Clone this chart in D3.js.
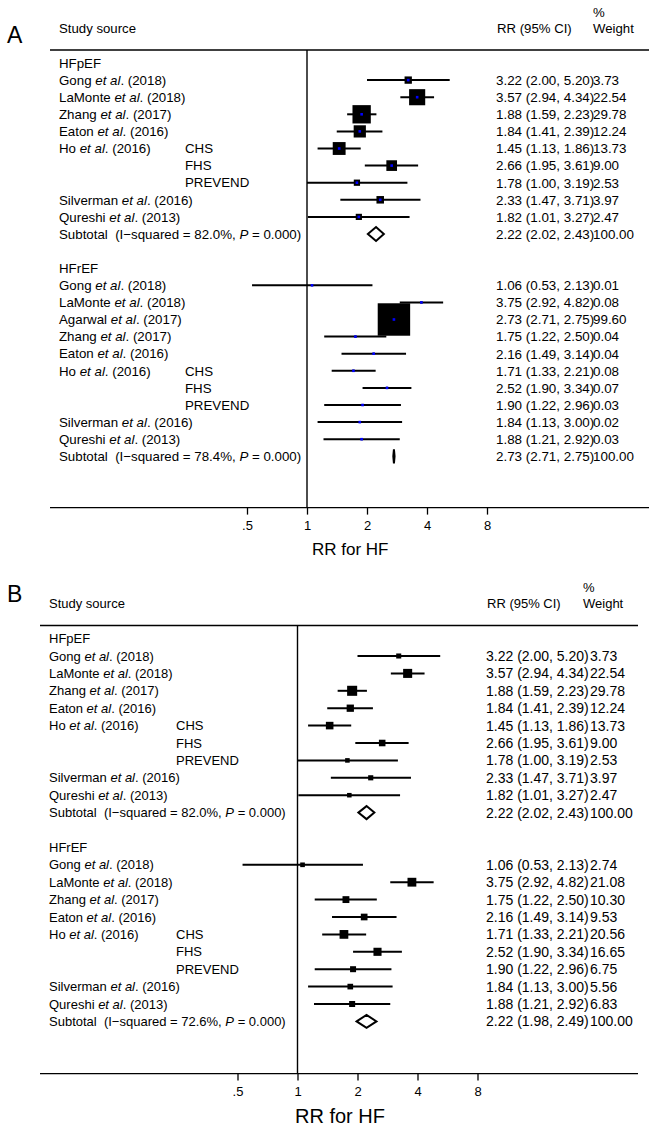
<!DOCTYPE html>
<html>
<head>
<meta charset="utf-8">
<script src="https://cdn.jsdelivr.net/npm/d3@7"></script>
<style>
  body { margin: 0; background: #fff; }
  svg { font-family: "Liberation Sans", Arial, Helvetica, sans-serif; }
  text { white-space: pre; }
</style>
</head>
<body>
<div id="chart"></div>
<script>
// ---- data ----
const pefAuthors = ["Gong", "LaMonte", "Zhang", "Eaton", "Ho", "", "", "Silverman", "Qureshi"];
const pefYears   = ["2018", "2018", "2017", "2016", "2016", "", "", "2016", "2013"];
const pefCohorts = ["", "", "", "", "CHS", "FHS", "PREVEND", "", ""];
const pefRR      = [3.22, 3.57, 1.88, 1.84, 1.45, 2.66, 1.78, 2.33, 1.82];
const pefLo      = [2.00, 2.94, 1.59, 1.41, 1.13, 1.95, 1.00, 1.47, 1.01];
const pefHi      = [5.20, 4.34, 2.23, 2.39, 1.86, 3.61, 3.19, 3.71, 3.27];
const pefWeight  = [3.73, 22.54, 29.78, 12.24, 13.73, 9.00, 2.53, 3.97, 2.47];
const pefSubtotal = [2.22, 2.02, 2.43];
const pefI2 = "82.0";

// panel A, HFrEF (includes Agarwal)
const refAAuthors = ["Gong", "LaMonte", "Agarwal", "Zhang", "Eaton", "Ho", "", "", "Silverman", "Qureshi"];
const refAYears   = ["2018", "2018", "2017", "2017", "2016", "2016", "", "", "2016", "2013"];
const refACohorts = ["", "", "", "", "", "CHS", "FHS", "PREVEND", "", ""];
const refARR      = [1.06, 3.75, 2.73, 1.75, 2.16, 1.71, 2.52, 1.90, 1.84, 1.88];
const refALo      = [0.53, 2.92, 2.71, 1.22, 1.49, 1.33, 1.90, 1.22, 1.13, 1.21];
const refAHi      = [2.13, 4.82, 2.75, 2.50, 3.14, 2.21, 3.34, 2.96, 3.00, 2.92];
const refAWeight  = [0.01, 0.08, 99.60, 0.04, 0.04, 0.08, 0.07, 0.03, 0.02, 0.03];
const refASubtotal = [2.73, 2.71, 2.75];
const refAI2 = "78.4";

// panel B, HFrEF (without Agarwal)
const refBAuthors = ["Gong", "LaMonte", "Zhang", "Eaton", "Ho", "", "", "Silverman", "Qureshi"];
const refBYears   = ["2018", "2018", "2017", "2016", "2016", "", "", "2016", "2013"];
const refBCohorts = ["", "", "", "", "CHS", "FHS", "PREVEND", "", ""];
const refBRR      = [1.06, 3.75, 1.75, 2.16, 1.71, 2.52, 1.90, 1.84, 1.88];
const refBLo      = [0.53, 2.92, 1.22, 1.49, 1.33, 1.90, 1.22, 1.13, 1.21];
const refBHi      = [2.13, 4.82, 2.50, 3.14, 2.21, 3.34, 2.96, 3.00, 2.92];
const refBWeight  = [2.74, 21.08, 10.30, 9.53, 20.56, 16.65, 6.75, 5.56, 6.83];
const refBSubtotal = [2.22, 1.98, 2.49];
const refBI2 = "72.6";

const tickValues = [0.5, 1, 2, 4, 8];
const tickLabels = [".5", "1", "2", "4", "8"];

function group(name, authors, years, cohorts, rr, lo, hi, w, sub, i2) {
  return {
    name,
    studies: rr.map((v, i) => ({
      author: authors[i], year: years[i], cohort: cohorts[i],
      rr: v, lo: lo[i], hi: hi[i], w: w[i]
    })),
    sub, i2
  };
}

const panelAGroups = [
  group("HFpEF", pefAuthors, pefYears, pefCohorts, pefRR, pefLo, pefHi, pefWeight, pefSubtotal, pefI2),
  group("HFrEF", refAAuthors, refAYears, refACohorts, refARR, refALo, refAHi, refAWeight, refASubtotal, refAI2)
];
const panelBGroups = [
  group("HFpEF", pefAuthors, pefYears, pefCohorts, pefRR, pefLo, pefHi, pefWeight, pefSubtotal, pefI2),
  group("HFrEF", refBAuthors, refBYears, refBCohorts, refBRR, refBLo, refBHi, refBWeight, refBSubtotal, refBI2)
];

const svg = d3.select("#chart").append("svg")
  .attr("width", 652)
  .attr("height", 1127);

svg.append("rect").attr("width", 652).attr("height", 1127).attr("fill", "#fff");

const f2 = d3.format(".2f");

function drawPanel(p, groups) {
  const g = svg.append("g");

  const x = d3.scaleLog().base(2)
    .domain([0.5, 8])
    .range([p.xOne - p.perDouble, p.xOne + 3 * p.perDouble]);
  const box = d3.scaleSqrt().domain([0, 100]).range(p.boxRange);

  // flatten into rows
  const rows = [];
  groups.forEach((grp, gi) => {
    rows.push({ type: "head", grp });
    grp.studies.forEach(s => rows.push({ type: "study", s }));
    rows.push({ type: "sub", grp });
    if (gi < groups.length - 1) rows.push({ type: "blank" });
  });
  const y = i => p.row0 + i * p.rowH;
  const axisY = y(rows.length + 2);

  // panel letter and headers
  g.append("text").attr("x", 7).attr("y", p.letterY)
    .attr("font-size", 23).text(p.letter);
  g.append("text").attr("x", p.labelX).attr("y", p.headY)
    .attr("font-size", p.headFont).text("Study source");
  g.append("text").attr("x", p.rrHeadX).attr("y", p.headY)
    .attr("font-size", p.headFont).text("RR (95% CI)");
  g.append("text").attr("x", p.wHeadX).attr("y", p.pctY)
    .attr("font-size", p.headFont).text("%");
  g.append("text").attr("x", p.wHeadX).attr("y", p.headY)
    .attr("font-size", p.headFont).text("Weight");

  // frame lines
  g.append("line").attr("x1", p.left).attr("x2", p.right)
    .attr("y1", p.lineY).attr("y2", p.lineY)
    .attr("stroke", "#000").attr("stroke-width", 1.4);
  g.append("line").attr("x1", x(1)).attr("x2", x(1))
    .attr("y1", p.lineY).attr("y2", axisY)
    .attr("stroke", "#000").attr("stroke-width", 1.4);
  g.append("line").attr("x1", p.left).attr("x2", p.right)
    .attr("y1", axisY).attr("y2", axisY)
    .attr("stroke", "#000").attr("stroke-width", 1.4);

  rows.forEach((r, i) => {
    const yy = y(i);
    if (r.type === "head") {
      g.append("text").attr("x", p.labelX).attr("y", yy).attr("dy", "0.36em")
        .attr("font-size", p.labelFont).text(r.grp.name);
    } else if (r.type === "study") {
      const s = r.s;
      if (s.author) {
        const t = g.append("text").attr("x", p.labelX).attr("y", yy).attr("dy", "0.36em")
          .attr("font-size", p.labelFont);
        t.append("tspan").text(s.author + " ");
        t.append("tspan").attr("font-style", "italic").text("et al");
        t.append("tspan").text(". (" + s.year + ")");
      }
      if (s.cohort) {
        g.append("text").attr("x", p.cohortX).attr("y", yy).attr("dy", "0.36em")
          .attr("font-size", p.labelFont).text(s.cohort);
      }
      // CI line
      g.append("line")
        .attr("x1", x(s.lo)).attr("x2", x(s.hi))
        .attr("y1", yy).attr("y2", yy)
        .attr("stroke", "#000").attr("stroke-width", 2);
      const side = box(s.w);
      g.append("rect")
        .attr("x", x(s.rr) - side / 2).attr("y", yy - side / 2)
        .attr("width", side).attr("height", side)
        .attr("fill", "#000");
      if (p.dots) {
        g.append("rect")
          .attr("x", x(s.rr) - 1.3).attr("y", yy - 1.3)
          .attr("width", 2.6).attr("height", 2.6)
          .attr("fill", "#0000ff");
      }
      g.append("text").attr("x", p.rrX).attr("y", yy).attr("dy", "0.36em")
        .attr("font-size", p.valFont)
        .text(`${f2(s.rr)} (${f2(s.lo)}, ${f2(s.hi)})`);
      g.append("text").attr("x", p.wX).attr("y", yy).attr("dy", "0.36em")
        .attr("font-size", p.valFont).text(f2(s.w));
    } else if (r.type === "sub") {
      const [est, lo, hi] = r.grp.sub;
      const t = g.append("text").attr("x", p.labelX).attr("y", yy).attr("dy", "0.36em")
        .attr("font-size", p.labelFont);
      t.append("tspan").text(`Subtotal  (I\u2212squared = ${r.grp.i2}%, `);
      t.append("tspan").attr("font-style", "italic").text("P");
      t.append("tspan").text(" = 0.000)");
      const h = p.diamondH;
      g.append("path")
        .attr("d", `M${x(lo)},${yy} L${x(est)},${yy - h} L${x(hi)},${yy} L${x(est)},${yy + h} Z`)
        .attr("fill", "#fff").attr("stroke", "#000").attr("stroke-width", 2)
        .attr("stroke-linejoin", "miter");
      g.append("text").attr("x", p.rrX).attr("y", yy).attr("dy", "0.36em")
        .attr("font-size", p.valFont)
        .text(`${f2(est)} (${f2(lo)}, ${f2(hi)})`);
      g.append("text").attr("x", p.wX).attr("y", yy).attr("dy", "0.36em")
        .attr("font-size", p.valFont).text(f2(100));
    }
  });

  // x axis
  const axis = d3.axisBottom(x)
    .tickValues(tickValues)
    .tickFormat((d, i) => tickLabels[i])
    .tickSize(7)
    .tickPadding(6);
  const ax = g.append("g").attr("transform", `translate(0,${axisY})`).call(axis);
  ax.select(".domain").remove();
  ax.selectAll(".tick line").attr("stroke", "#000").attr("stroke-width", 1.3);
  ax.selectAll(".tick text")
    .attr("font-size", p.tickFont)
    .attr("font-family", "Liberation Sans, Arial, sans-serif")
    .attr("fill", "#000");

  g.append("text").attr("x", p.titleX).attr("y", p.titleY)
    .attr("font-size", p.titleFont).text("RR for HF");
}

drawPanel({
  letter: "A", letterY: 43,
  headY: 33, pctY: 17, headFont: 13.2,
  lineY: 50, left: 50, right: 649,
  xOne: 307, perDouble: 60,
  row0: 63, rowH: 17.1,
  labelX: 59, cohortX: 185,
  rrX: 496, rrHeadX: 497, wX: 593, wHeadX: 593,
  labelFont: 13.3, valFont: 13.4, tickFont: 13,
  boxRange: [1.3, 32.5], dots: true, diamondH: 7,
  titleX: 312, titleY: 555, titleFont: 17
}, panelAGroups);

drawPanel({
  letter: "B", letterY: 602,
  headY: 608, pctY: 592, headFont: 13,
  lineY: 625.5, left: 40, right: 638,
  xOne: 297.5, perDouble: 60,
  row0: 638.6, rowH: 17.4,
  labelX: 49, cohortX: 176,
  rrX: 486, rrHeadX: 487, wX: 590, wHeadX: 583,
  labelFont: 13, valFont: 14, tickFont: 13,
  boxRange: [2.3, 16.5], dots: false, diamondH: 6.5,
  titleX: 295, titleY: 1123, titleFont: 20
}, panelBGroups);
</script>
</body>
</html>
